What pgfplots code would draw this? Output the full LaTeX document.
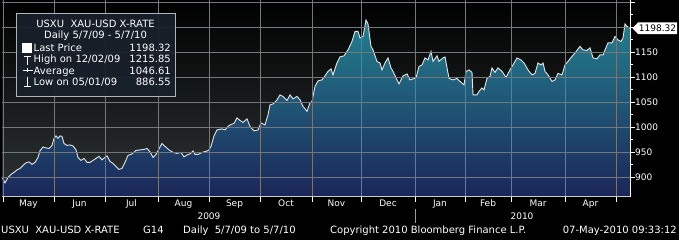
\documentclass[border=0pt]{standalone}
\usepackage{fontspec}
\setmainfont{DejaVu Sans}
\usepackage{pgfplots}
\pgfplotsset{compat=1.18}
\usepackage{pgfplotstable}
\definecolor{gridc}{HTML}{74787C}
\definecolor{linec}{HTML}{E2E6E8}
\definecolor{filltop}{HTML}{23808F}
\definecolor{fillmid}{HTML}{175476}
\definecolor{fillbot}{HTML}{1B2659}
\definecolor{bgbot}{HTML}{2D3333}
\definecolor{legbg}{HTML}{18202B}
\definecolor{legbd}{HTML}{AEB4BA}
\definecolor{sepc}{HTML}{9A9A9A}
\newcommand\fa{\fontsize{10}{12}\selectfont}
\newcommand\fb{\fontsize{9}{11}\selectfont}

\pgfplotstableread{
x y
2 901
5 889
8 900
11 906
14 910
17 915
20 918
23 924
26 929
29 931
32 926
35 930
38 940
40 953
43 961
46 959
49 958
52 964
54 978
56 983
58 978
60 983
62 982
64 968
67 964
70 965
73 963
76 955
78 940
81 934
84 938
87 930
90 930
93 934
96 938
99 942
102 935
105 940
107 943
110 932
113 928
116 922
119 916
122 918
125 930
128 944
132 947
136 954
140 955
144 956
147 958
150 951
153 940
156 946
159 957
162 968
165 962
169 955
173 950
177 948
181 950
184 941
187 945
190 947
193 953
195 946
198 946
202 950
206 952
209 955
211 962
214 983
217 995
222 997
225 995
228 1002
231 1006
234 1008
237 1019
240 1014
243 1010
247 1017
250 1002
254 993
258 995
261 1009
265 1005
268 1025
270 1045
273 1047
277 1055
280 1065
283 1062
287 1054
290 1065
293 1057
297 1062
300 1055
303 1042
307 1032
310 1049
312 1052
315 1082
318 1093
322 1095
325 1103
328 1112
331 1117
333 1105
337 1129
340 1141
344 1143
348 1155
352 1172
355 1192
358 1192
360 1179
363 1182
366 1215
368 1207
371 1162
373 1155
377 1132
380 1129
382 1115
385 1129
388 1139
391 1119
393 1112
397 1095
399 1087
403 1103
407 1107
410 1095
413 1097
416 1099
419 1122
422 1125
425 1139
428 1135
431 1152
433 1132
437 1143
439 1132
443 1139
445 1141
449 1098
453 1095
457 1098
460 1092
464 1085
466 1112
469 1115
472 1110
473 1065
477 1065
479 1072
482 1079
484 1075
487 1098
490 1102
492 1119
495 1110
498 1119
502 1112
506 1100
510 1115
513 1125
517 1139
521 1135
524 1129
528 1115
532 1105
535 1108
538 1129
541 1125
543 1129
545 1112
548 1105
552 1092
555 1095
558 1108
562 1105
565 1125
568 1132
572 1142
575 1149
580 1162
583 1155
587 1154
590 1159
593 1139
597 1137
600 1145
603 1145
605 1155
608 1169
612 1169
615 1182
618 1175
621 1172
623 1179
625 1207
627 1202
630 1198.32
}\gold

\begin{document}
\begin{tikzpicture}[x=1pt,y=1pt]
\useasboundingbox (0,0) rectangle (679,240);
\fill[black] (0,0) rectangle (679,240);
\shade[top color=black, bottom color=bgbot] (2,43.3) rectangle (630,240);
\begin{axis}[
  at={(2pt,43.3pt)}, anchor=south west,
  width=628pt, height=196.7pt, scale only axis,
  xmin=2, xmax=630, ymin=861.4, ymax=1254.8,
  axis on top,
  axis x line*=bottom, axis y line*=right,
  x axis line style={draw=white!80!black, line width=0.9pt},
  y axis line style={draw=white, line width=1pt},
  tick align=outside,
  major tick length=5pt, minor tick length=3pt,
  tick style={draw=white, line width=0.8pt},
  xtick={3,54,105,158,209,260,312,361,415,465,511,565,616},
  xticklabels={},
  extra x ticks={28.5,79.5,131.5,183.5,234.5,286,336.5,388,440,488,538,590.5},
  extra x tick labels={May,Jun,Jul,Aug,Sep,Oct,Nov,Dec,Jan,Feb,Mar,Apr},
  extra x tick style={major tick length=0pt,
    xticklabel style={anchor=base, yshift=-9.8pt, inner sep=0pt}},
  ytick={900,950,1000,1050,1100,1150,1200,1250},
  yticklabels={900,950,1000,1050,1100,1150,{},{}},
  minor y tick num=1,
  /pgf/number format/assume math mode=true,
  tick label style={font=\fb, text=white},
  yticklabel style={anchor=west, inner sep=0pt},
]
\addplot[draw=none, top color=filltop, middle color=fillmid, bottom color=fillbot] table[x=x,y=y]{\gold} \closedcycle;
\addplot[draw=linec, line width=0.9pt] table[x=x,y=y]{\gold};
\coordinate (tag) at (axis cs:630,1198.32);
\end{axis}
% grid (decorative, in picture coordinates: 1 unit = 1 px)
\foreach \gx in {3,54,105,158,209,260,312,361,415,465,511,565,616}{
  \draw[gridc, line width=0.5pt] (\gx,43.8) -- (\gx,240);
}
\foreach \gy in {62.6,87.6,112.6,137.6,162.6,187.6,212.6,237.6}{
  \draw[gridc, line width=0.5pt] (2,\gy) -- (629.5,\gy);
}
% price tag
\fill[white, shift={(tag)}] (2.5,0) -- (8,5.8) -- (47,5.8) -- (47,-5.8) -- (8,-5.8) -- cycle;
\node[font=\fb, text=black, inner sep=0pt, anchor=center] at ([xshift=27.5pt]tag) {1198.32};
% year row
\node[font=\fb, text=white, inner sep=0pt, anchor=base] at (209,20.5) {2009};
\node[font=\fb, text=white, inner sep=0pt, anchor=base] at (522,20.5) {2010};
\draw[sepc, line width=0.8pt] (415,31) -- (415,17);
% footer
\node[font=\fa, text=white, inner sep=0pt, anchor=base west] at (1,6.5) {USXU\ \ XAU-USD X-RATE};
\node[font=\fa, text=white, inner sep=0pt, anchor=base west] at (143,6.5) {G14};
\node[font=\fa, text=white, inner sep=0pt, anchor=base west] at (183,6.5) {Daily\ \ 5/7/09 to 5/7/10};
\node[font=\fa, text=white, inner sep=0pt, anchor=base west] at (330,6.5) {Copyright 2010 Bloomberg Finance L.P.};
\node[font=\fa, text=white, inner sep=0pt, anchor=base east] at (677,6.5) {07-May-2010 09:33:12};
% legend box
\draw[draw=legbd, fill=legbg, fill opacity=0.92, line width=0.8pt] (16,144) rectangle (175,227);
\node[font=\fa, text=white, inner sep=0pt, anchor=base] at (95.5,212.4) {USXU\ \ XAU-USD X-RATE};
\node[font=\fa, text=white, inner sep=0pt, anchor=base] at (95.5,201.4) {Daily 5/7/09 - 5/7/10};
\node[font=\fa, text=white, inner sep=0pt, anchor=base west] at (33.5,188.7) {Last Price};
\node[font=\fa, text=white, inner sep=0pt, anchor=base east] at (171,188.7) {1198.32};
\node[font=\fa, text=white, inner sep=0pt, anchor=base west] at (33.5,177.1) {High on 12/02/09};
\node[font=\fa, text=white, inner sep=0pt, anchor=base east] at (171,177.1) {1215.85};
\node[font=\fa, text=white, inner sep=0pt, anchor=base west] at (33.5,165.4) {Average};
\node[font=\fa, text=white, inner sep=0pt, anchor=base east] at (171,165.4) {1046.61};
\node[font=\fa, text=white, inner sep=0pt, anchor=base west] at (33.5,154.1) {Low on 05/01/09};
\node[font=\fa, text=white, inner sep=0pt, anchor=base east] at (171,154.1) {886.55};
% legend icons
\fill[white] (21.8,186.8) rectangle (32.2,197.2);
\draw[white, line width=0.9pt] (24,184) -- (31,184) (27.5,184) -- (27.5,175);
\draw[white, line width=0.9pt] (22.5,170) -- (33,170) (27.75,168) -- (27.75,172);
\draw[white, line width=0.9pt] (27.5,163) -- (27.5,154) (24,154) -- (31,154);
\end{tikzpicture}
\end{document}
